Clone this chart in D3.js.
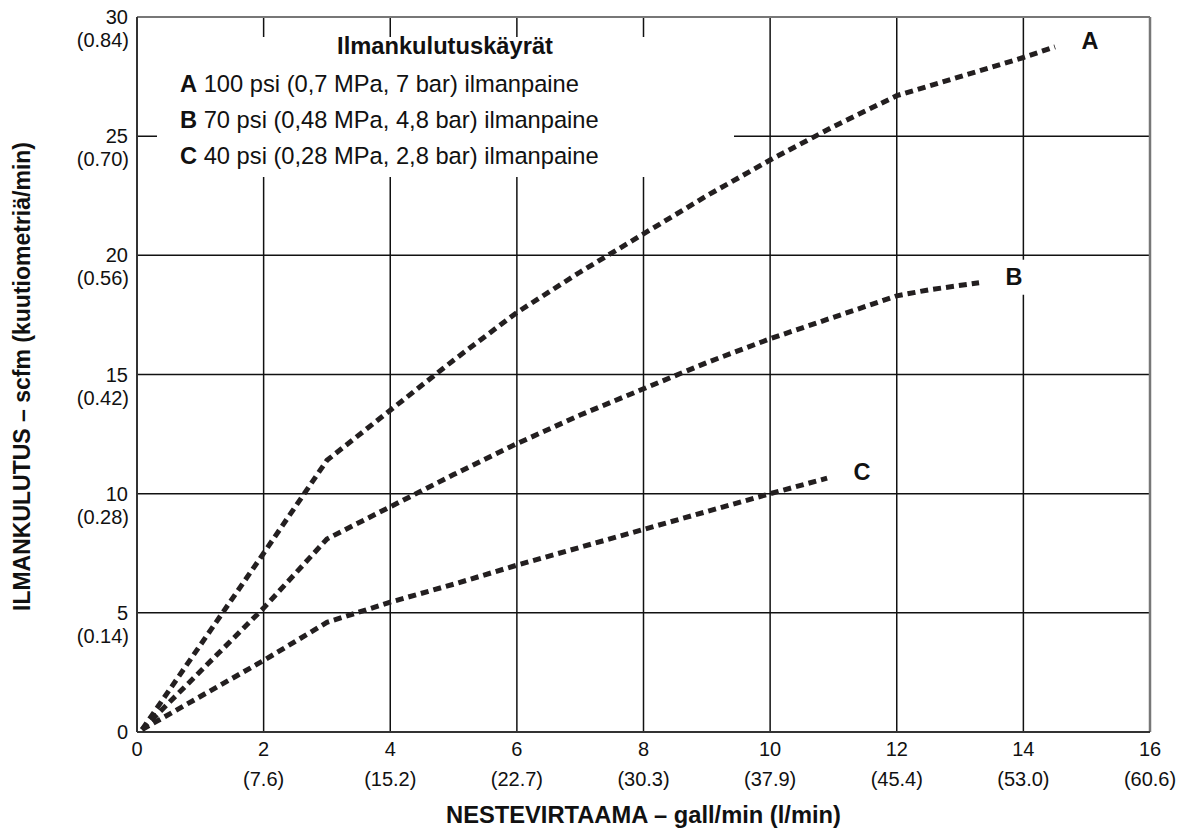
<!DOCTYPE html>
<html>
<head>
<meta charset="utf-8">
<script src="https://cdn.jsdelivr.net/npm/d3@7"></script>
<style>
  body { margin: 0; background: #fff; }
  text { font-family: "Liberation Sans", Arial, Helvetica, sans-serif; fill: #111; }
</style>
</head>
<body>
<svg id="chart" width="1178" height="835"></svg>
<script>
// tick values and their metric equivalents
var xTicks = [0, 2, 4, 6, 8, 10, 12, 14, 16];
var xTickLitres = ["", "(7.6)", "(15.2)", "(22.7)", "(30.3)", "(37.9)", "(45.4)", "(53.0)", "(60.6)"];
var yTicks = [0, 5, 10, 15, 20, 25, 30];
var yTickCubic = ["", "(0.14)", "(0.28)", "(0.42)", "(0.56)", "(0.70)", "(0.84)"];

// curves: [gpm, scfm]
var curveA = [[0.08, 0.1], [2, 7.5], [3, 11.4], [4, 13.5], [5, 15.6], [6, 17.6], [7, 19.3], [8, 20.9],
              [9, 22.5], [10, 24.0], [11, 25.4], [12, 26.7], [13, 27.5], [14, 28.3], [14.5, 28.75]];
var curveB = [[0.08, 0.1], [2, 5.2], [3, 8.1], [4, 9.45], [5, 10.8], [6, 12.1], [7, 13.3], [8, 14.4],
              [9, 15.5], [10, 16.5], [11, 17.4], [12, 18.3], [12.5, 18.55], [13.3, 18.85]];
var curveC = [[0.08, 0.1], [2, 3.0], [3, 4.6], [4, 5.45], [5, 6.2], [6, 7.0], [7, 7.75], [8, 8.5],
              [9, 9.25], [10, 10.0], [10.9, 10.65]];
var curveNames = ["A", "B", "C"];

var legendTitle = "Ilmankulutuskäyrät";
var legendRows = [
    ["A", " 100 psi (0,7 MPa, 7 bar) ilmanpaine"],
    ["B", " 70 psi (0,48 MPa, 4,8 bar) ilmanpaine"],
    ["C", " 40 psi (0,28 MPa, 2,8 bar) ilmanpaine"]
];

var svg = d3.select("#chart"),
    margin = {top: 17, right: 28, bottom: 103, left: 137},
    width = 1178 - margin.left - margin.right,
    height = 835 - margin.top - margin.bottom,
    g = svg.append("g").attr("transform", "translate(" + margin.left + "," + margin.top + ")");

var x = d3.scaleLinear().domain([0, 16]).range([0, width]);
var y = d3.scaleLinear().domain([0, 30]).range([height, 0]);

// grid
g.append("g").selectAll("line")
    .data(xTicks.filter(function (d) { return d > 0 && d < 16; }))
    .enter().append("line")
    .attr("x1", function (d) { return x(d); })
    .attr("x2", function (d) { return x(d); })
    .attr("y1", 0).attr("y2", height)
    .attr("stroke", "#111").attr("stroke-width", 1.5);

g.append("g").selectAll("line")
    .data(yTicks.filter(function (d) { return d > 0 && d < 30; }))
    .enter().append("line")
    .attr("x1", 0).attr("x2", width)
    .attr("y1", function (d) { return y(d); })
    .attr("y2", function (d) { return y(d); })
    .attr("stroke", "#111").attr("stroke-width", 1.5);

// frame
g.append("line").attr("x1", 0).attr("x2", width).attr("y1", 0).attr("y2", 0)
    .attr("stroke", "#777").attr("stroke-width", 2);
g.append("line").attr("x1", width).attr("x2", width).attr("y1", 0).attr("y2", height)
    .attr("stroke", "#777").attr("stroke-width", 2.5);
g.append("line").attr("x1", 0).attr("x2", width).attr("y1", height).attr("y2", height)
    .attr("stroke", "#333").attr("stroke-width", 2);
g.append("line").attr("x1", 0).attr("x2", 0).attr("y1", 0).attr("y2", height)
    .attr("stroke", "#333").attr("stroke-width", 2);

// legend box (hides grid behind it)
var lg = svg.append("g");
lg.append("rect").attr("x", 157).attr("y", 37).attr("width", 577).attr("height", 140).attr("fill", "#fff");
lg.append("text").attr("x", 445).attr("y", 54).attr("text-anchor", "middle")
    .attr("font-size", "23.7px").attr("font-weight", "bold").text(legendTitle);
legendRows.forEach(function (r, i) {
    var t = lg.append("text").attr("x", 180).attr("y", 92 + i * 36).attr("font-size", "23.7px");
    t.append("tspan").attr("font-weight", "bold").text(r[0]);
    t.append("tspan").text(r[1]);
});

// curves
var line = d3.line()
    .x(function (d) { return x(d[0]); })
    .y(function (d) { return y(d[1]); });

[curveA, curveB, curveC].forEach(function (c, i) {
    g.append("path")
        .datum(c)
        .attr("d", line)
        .attr("fill", "none")
        .attr("stroke", "#231f20")
        .attr("stroke-width", 5)
        .attr("stroke-dasharray", "8,5");

    var end = c[c.length - 1];
    var lx = x(end[0]) + 35, ly = y(end[1]) - 6;
    g.append("rect")
        .attr("x", x(end[0]) + 1).attr("y", ly - 17)
        .attr("width", lx - x(end[0]) + 20).attr("height", 35)
        .attr("fill", "#fff");
    g.append("text")
        .attr("x", lx).attr("y", ly + 8)
        .attr("text-anchor", "middle")
        .attr("font-size", "23.5px").attr("font-weight", "bold")
        .text(curveNames[i]);
});

// x tick labels
var xl = g.append("g");
xl.selectAll(".xn").data(xTicks).enter().append("text")
    .attr("x", function (d) { return x(d); }).attr("y", height + 24)
    .attr("text-anchor", "middle").attr("font-size", "20px")
    .text(function (d) { return d; });
xl.selectAll(".xm").data(xTicks).enter().append("text")
    .attr("x", function (d) { return x(d); }).attr("y", height + 54)
    .attr("text-anchor", "middle").attr("font-size", "20px")
    .text(function (d, i) { return xTickLitres[i]; });

// y tick labels
var yl = g.append("g");
yl.selectAll(".yn").data(yTicks).enter().append("text")
    .attr("x", -9).attr("y", function (d) { return y(d) + 7; })
    .attr("text-anchor", "end").attr("font-size", "20px")
    .text(function (d) { return d; });
yl.selectAll(".ym").data(yTicks).enter().append("text")
    .attr("x", -8).attr("y", function (d) { return y(d) + 30; })
    .attr("text-anchor", "end").attr("font-size", "20px")
    .text(function (d, i) { return yTickCubic[i]; });

// axis titles
svg.append("text")
    .attr("x", margin.left + width / 2).attr("y", 823)
    .attr("text-anchor", "middle").attr("font-size", "23.7px").attr("font-weight", "bold")
    .text("NESTEVIRTAAMA – gall/min (l/min)");

svg.append("text")
    .attr("transform", "translate(30," + (margin.top + height / 2 + 2) + ") rotate(-90)")
    .attr("text-anchor", "middle").attr("font-size", "23px").attr("font-weight", "bold")
    .text("ILMANKULUTUS – scfm (kuutiometriä/min)");
</script>
</body>
</html>
